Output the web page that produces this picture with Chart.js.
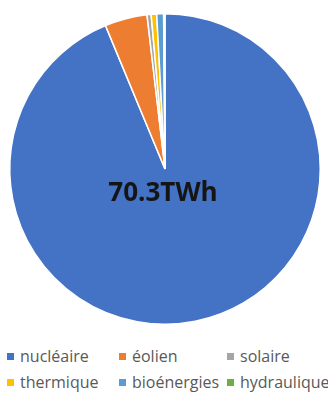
<!DOCTYPE html>
<html>
<head>
<meta charset="utf-8">
<script src="https://cdn.jsdelivr.net/npm/chart.js@4"></script>
<style>
  body { margin: 0; background: #fff; width: 328px; height: 394px; overflow: hidden; font-family: "Open Sans", sans-serif; }
  #wrap { position: absolute; left: 0; top: 0; width: 328px; height: 338px; }
  #legend { position: absolute; left: 0; top: 345px; width: 328px; display: grid; grid-template-columns: 112px 108px 108px; row-gap: 4px; }
  .item { display: flex; align-items: center; font-size: 16px; color: #595959; height: 22px; white-space: nowrap; }
  .box { width: 7px; height: 7px; margin: 0 6px 0 7px; flex: none; }
</style>
</head>
<body>
<div id="wrap"><canvas id="pie"></canvas></div>
<div id="legend"></div>
<script>
  // production par filière (TWh)
  const labels = ['nucléaire', 'éolien', 'solaire', 'thermique', 'bioénergies', 'hydraulique'];
  const values = [65.9, 3.1, 0.3, 0.4, 0.5, 0.1];
  const colors = ['#4472C4', '#ED7D31', '#A5A5A5', '#FFC000', '#5B9BD5', '#70AD47'];
  const totalLabel = '70.3TWh';

  // total written in the middle of the pie
  const centerText = {
    id: 'centerText',
    afterDraw(chart) {
      const ctx = chart.ctx;
      const meta = chart.getDatasetMeta(0).data[0];
      ctx.save();
      ctx.font = 'bold 26px "Open Sans", sans-serif';
      ctx.fillStyle = '#151515';
      ctx.textAlign = 'center';
      ctx.textBaseline = 'middle';
      ctx.fillText(totalLabel, meta.x - 2, meta.y + 25);
      ctx.restore();
    }
  };

  new Chart(document.getElementById('pie'), {
    type: 'pie',
    data: {
      labels: labels,
      datasets: [{
        data: values,
        backgroundColor: colors,
        borderColor: '#ffffff',
        borderWidth: 1.5
      }]
    },
    options: {
      responsive: true,
      maintainAspectRatio: false,
      animation: false,
      layout: { padding: { top: 12, bottom: 12, left: 9, right: 7 } },
      plugins: {
        legend: { display: false },
        tooltip: { enabled: false }
      }
    },
    plugins: [centerText]
  });

  // legend built from the same arrays
  const legend = document.getElementById('legend');
  labels.forEach(function (label, i) {
    const item = document.createElement('div');
    item.className = 'item';
    item.innerHTML = '<span class="box" style="background:' + colors[i] + '"></span>' + label;
    legend.appendChild(item);
  });
</script>
</body>
</html>
